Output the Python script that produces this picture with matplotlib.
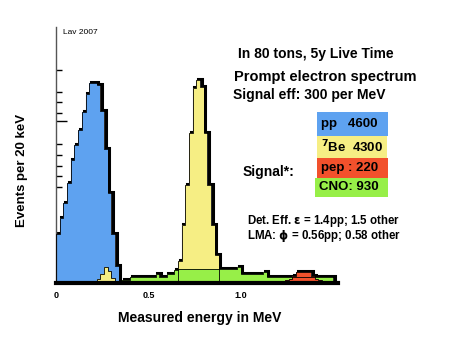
import numpy as np
import matplotlib
matplotlib.use('Agg')
import matplotlib.pyplot as plt
import matplotlib.transforms as mtransforms
from matplotlib.patches import Rectangle

plt.rcParams['font.family'] = ['Liberation Sans', 'DejaVu Sans']
plt.rcParams['font.weight'] = 'bold'
plt.rcParams['mathtext.default'] = 'bf'

# 20 keV bins, heights in arbitrary units (axis top = 256)
bin_width = 0.02
n_bins = 75

# each spectrum: first bin energy (MeV) and bin heights
pp_start = 0.00
pp_counts = [49, 65, 80, 100, 123, 138, 153, 171, 189, 200, 200, 198, 172, 134, 90, 49, 17]

be7_start = 0.22
be7_counts = [4, 9, 16, 12, 5, 0, 0, 0, 0, 0, 0, 0, 0, 0, 0, 0, 0, 0, 0, 0, 0, 0,
              22, 58, 98, 150, 195, 203, 196, 150, 98, 58, 28]

cno_start = 0.36
cno_counts = [3, 3, 6, 6, 6, 6, 6, 6, 6, 9, 6, 6, 9, 9, 13,
              14, 14, 14, 14, 14, 14, 14, 14, 14, 14, 14, 14, 14, 14, 14, 14, 16,
              9, 9, 9, 9, 9, 9, 11, 6, 6, 6, 6, 6, 6, 6, 6, 6, 6, 6, 6, 6, 6, 6, 6, 6, 6]

pep_start = 1.24
pep_counts = [3, 4, 7, 11, 11, 11, 11, 7, 4, 3]

ytick_marks = [213, 191, 181, 170, 139, 128, 117, 107, 96, 32, 21]
ytick_long = [162]

legend_names = ['pp   4600', r'$^7$Be  4300', 'pep : 220', 'CNO: 930']
legend_colors = ['#5ea2f0', '#f6ee84', '#f2512c', '#97ef48']
legend_boxes = [(317, 112, 71, 24), (317, 136, 70, 22), (317, 158, 71, 20), (315, 178, 73, 19)]


def fill_bins(start, counts):
    h = np.zeros(n_bins)
    i0 = int(round(start / bin_width))
    h[i0:i0 + len(counts)] = counts
    return h


edges = np.arange(n_bins + 1) * bin_width
pp = fill_bins(pp_start, pp_counts)
be7 = fill_bins(be7_start, be7_counts)
cno = fill_bins(cno_start, cno_counts)
pep = fill_bins(pep_start, pep_counts)
total = np.maximum.reduce([pp, be7, cno, pep])

fig = plt.figure(figsize=(4.5, 3.55), dpi=100, facecolor='white')
ax = fig.add_axes([56 / 450, 72 / 355, 282 / 450, 256 / 355])
ax.set_xlim(0, 1.527)
ax.set_ylim(0, 256)

# shadow-like black outline of the envelope
shadow = mtransforms.offset_copy(ax.transData, fig=fig, x=1.2, y=0.8, units='points')
ax.stairs(total, edges, color='black', lw=2.2, transform=shadow, zorder=1)

for h, c in [(pp, '#5ea2f0'), (be7, '#f6ee84'), (cno, '#97ef48'), (pep, '#f2512c')]:
    ax.stairs(h, edges, fill=True, color=c, zorder=2)
    ax.stairs(h, edges, color='black', lw=0.6, zorder=3)

for s in ['top', 'right']:
    ax.spines[s].set_visible(False)
ax.spines['left'].set_color('#555555')
ax.spines['left'].set_linewidth(1)
ax.spines['bottom'].set_linewidth(3)
ax.spines['bottom'].set_zorder(4)

ax.set_xticks([0, 0.5, 1.0])
ax.set_xticklabels(['0', '0.5', '1.0'])
ax.tick_params(axis='x', length=0, labelsize=6.5, pad=6)
ax.set_yticks(ytick_long)
ax.set_yticks(ytick_marks, minor=True)
ax.tick_params(axis='y', which='major', direction='in', length=8, width=1, labelleft=False)
ax.tick_params(axis='y', which='minor', direction='in', length=4, width=1, labelleft=False)

fig.text(200 / 450, 1 - 318 / 355, 'Measured energy in MeV', fontsize=10,
         ha='center', va='center')
fig.text(22 / 450, 1 - 170 / 355, 'Events per 20 keV', fontsize=9.5,
         rotation=90, ha='center', va='center')

fig.text(63 / 450, 1 - 33 / 355, 'Lav 2007', fontsize=6, fontweight='normal', va='center')
fig.text(238 / 450, 1 - 54 / 355, 'In 80 tons, 5y Live Time', fontsize=10, va='center')
fig.text(234 / 450, 1 - 77 / 355, 'Prompt electron spectrum', fontsize=10.5, va='center')
fig.text(233 / 450, 1 - 95 / 355, 'Signal eff: 300 per MeV', fontsize=10, va='center')
fig.text(243 / 450, 1 - 172 / 355, 'Signal*:', fontsize=10, va='center')
fig.text(247 / 450, 1 - 221 / 355, r'Det. Eff. $\epsilon$ = 1.4pp; 1.5 other', fontsize=8.3, va='center')
fig.text(247 / 450, 1 - 236 / 355, r'LMA: $\phi$ = 0.56pp; 0.58 other', fontsize=8.3, va='center')

for name, col, (x, y, w, h) in zip(legend_names, legend_colors, legend_boxes):
    fig.add_artist(Rectangle((x / 450, 1 - (y + h) / 355), w / 450, h / 355,
                             transform=fig.transFigure, facecolor=col, edgecolor='none'))
    fig.text((x + 4) / 450, 1 - (y + h / 2) / 355, name, fontsize=9.5, va='center')

fig.savefig('out.png', dpi=100, facecolor='white')
